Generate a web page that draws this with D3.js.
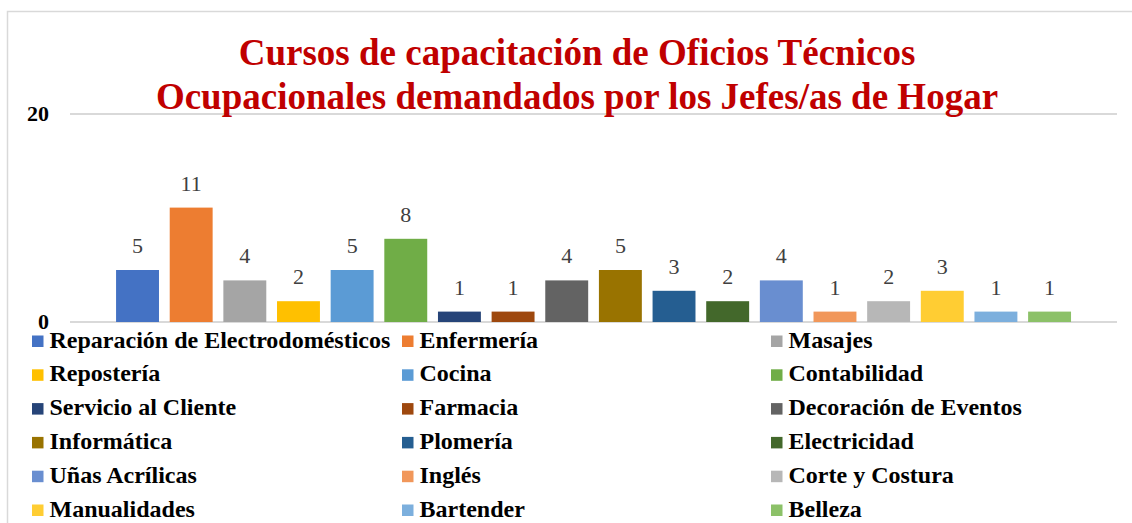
<!DOCTYPE html>
<html>
<head>
<meta charset="utf-8">
<script src="https://cdn.jsdelivr.net/npm/d3@7"></script>
<style>
  html, body { margin: 0; padding: 0; background: #fff; }
  svg { display: block; }
</style>
</head>
<body>
<svg id="chart" width="1132" height="523"></svg>
<script>
// Course names and how many household heads requested each one
const courses = [
  "Reparación de Electrodomésticos", "Enfermería", "Masajes",
  "Repostería", "Cocina", "Contabilidad",
  "Servicio al Cliente", "Farmacia", "Decoración de Eventos",
  "Informática", "Plomería", "Electricidad",
  "Uñas Acrílicas", "Inglés", "Corte y Costura",
  "Manualidades", "Bartender", "Belleza"
];
const requests = [5, 11, 4, 2, 5, 8, 1, 1, 4, 5, 3, 2, 4, 1, 2, 3, 1, 1];
const colors = [
  "#4472C4", "#ED7D31", "#A5A5A5", "#FFC000", "#5B9BD5", "#70AD47",
  "#264478", "#9E480E", "#636363", "#997300", "#255E91", "#43682B",
  "#698ED0", "#F1975A", "#B7B7B7", "#FFCD33", "#7CAFDD", "#8CC168"
];
const yTicks = [0, 20];
const titleLines = [
  "Cursos de capacitación de Oficios Técnicos",
  "Ocupacionales demandados por los Jefes/as de Hogar"
];

const serif = "Liberation Serif, Tinos, Times New Roman, serif";
const svg = d3.select("#chart");

// outer frame
svg.append("rect")
  .attr("x", 7.5).attr("y", 11.5)
  .attr("width", 1140).attr("height", 520)
  .attr("fill", "#fff").attr("stroke", "#d9d9d9").attr("stroke-width", 1.5);

// scales
const y = d3.scaleLinear().domain([0, 20]).range([322, 114]);
const x = d3.scaleBand().domain(courses).range([110.7, 1076.4]).paddingInner(0.2).paddingOuter(0.1);

// gridlines
svg.append("g").selectAll("line").data(yTicks).join("line")
  .attr("x1", 70).attr("x2", 1117)
  .attr("y1", d => y(d)).attr("y2", d => y(d))
  .attr("stroke", "#d9d9d9").attr("stroke-width", 2);

// y-axis labels
svg.append("g").selectAll("text").data(yTicks).join("text")
  .attr("x", 49).attr("y", d => y(d) + 7)
  .attr("text-anchor", "end")
  .style("font-family", serif).style("font-weight", "bold")
  .style("font-size", "22px").attr("fill", "#000")
  .text(d => d);

// title
svg.append("g").selectAll("text").data(titleLines).join("text")
  .attr("x", 577).attr("y", (d, i) => 65 + i * 44)
  .attr("text-anchor", "middle")
  .style("font-family", serif).style("font-weight", "bold")
  .style("font-size", "37px").attr("fill", "#C00000")
  .text(d => d);

// bars
svg.append("g").selectAll("rect").data(courses).join("rect")
  .attr("x", d => x(d))
  .attr("width", x.bandwidth())
  .attr("y", (d, i) => y(requests[i]))
  .attr("height", (d, i) => y(0) - y(requests[i]))
  .attr("fill", (d, i) => colors[i]);

// value labels
svg.append("g").selectAll("text").data(courses).join("text")
  .attr("x", d => x(d) + x.bandwidth() / 2)
  .attr("y", (d, i) => y(requests[i]) - 17)
  .attr("text-anchor", "middle")
  .style("font-family", serif).style("font-size", "22px")
  .attr("fill", "#404040")
  .text((d, i) => requests[i]);

// legend: three columns, six rows
const colX = [32, 402, 771];
const legend = svg.append("g").selectAll("g").data(courses).join("g")
  .attr("transform", (d, i) => `translate(${colX[i % 3]},${347.5 + Math.floor(i / 3) * 33.8})`);
legend.append("rect")
  .attr("x", 0).attr("y", -12).attr("width", 11.5).attr("height", 11.5)
  .attr("fill", (d, i) => colors[i]);
legend.append("text")
  .attr("x", 17.5).attr("y", 0)
  .style("font-family", serif).style("font-weight", "bold")
  .style("font-size", "24px").attr("fill", "#000")
  .text(d => d);
</script>
</body>
</html>
